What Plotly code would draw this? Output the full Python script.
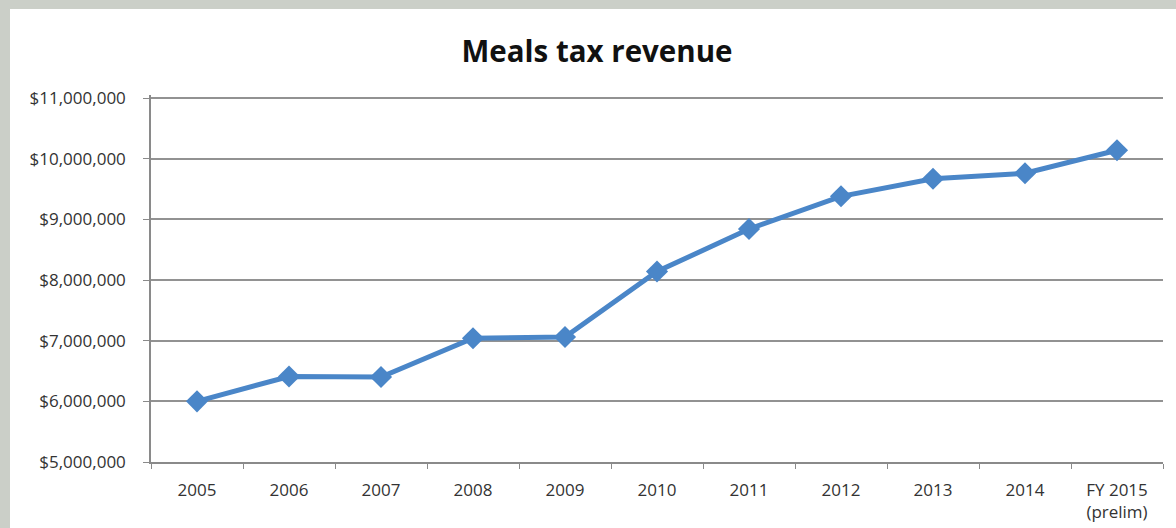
import plotly.graph_objects as go

# Meals tax revenue by fiscal year
years = ["2005", "2006", "2007", "2008", "2009", "2010", "2011", "2012", "2013", "2014",
         "FY 2015<br>(prelim)"]
revenue = [6000000, 6410000, 6400000, 7040000, 7060000, 8140000, 8840000, 9380000,
           9670000, 9760000, 10140000]
y_ticks = [5000000, 6000000, 7000000, 8000000, 9000000, 10000000, 11000000]
y_tick_labels = ["$5,000,000", "$6,000,000", "$7,000,000", "$8,000,000", "$9,000,000",
                 "$10,000,000", "$11,000,000"]

W, H = 1176, 528
L, R, T, B = 151, 13, 95, 66
pw, ph = W - L - R, H - T - B

fig = go.Figure()
fig.add_trace(go.Scatter(
    x=years, y=revenue, mode="lines+markers",
    line=dict(color="#4a86c8", width=5),
    marker=dict(symbol="diamond", size=17, color="#4a86c8"),
    hoverinfo="x+y", showlegend=False,
))

# white chart card over a soft grey backdrop
fig.add_shape(
    type="rect", xref="paper", yref="paper", layer="below",
    x0=(10 - L) / pw, x1=(W + 20 - L) / pw,
    y0=-(B + 30) / ph, y1=(H - B - 9) / ph,
    fillcolor="white", line=dict(width=0),
)

fig.update_layout(
    width=W, height=H,
    margin=dict(l=L, r=R, t=T, b=B),
    paper_bgcolor="#cbcfc8",
    plot_bgcolor="rgba(0,0,0,0)",
    font=dict(family="Open Sans", color="#404040", size=17),
    title=dict(text="<b>Meals tax revenue</b>", x=597 / W, xanchor="center",
               y=1 - 52 / H, yanchor="middle",
               font=dict(family="Open Sans", size=29.5, color="#111111")),
    xaxis=dict(
        type="category", showgrid=False, showline=True, linecolor="#8a8a8a", linewidth=1.5,
        ticks="outside", tickson="boundaries", ticklen=5, tickcolor="#8a8a8a",
        tickfont=dict(size=17, color="#333333"), ticklabelstandoff=12,
        range=[-0.5, len(years) - 0.5], fixedrange=True, automargin=False,
    ),
    yaxis=dict(
        range=[5000000, 11050000], tickvals=y_ticks, ticktext=y_tick_labels,
        showgrid=True, gridcolor="#929292", gridwidth=1.5,
        showline=True, linecolor="#8a8a8a", linewidth=1.5,
        ticks="outside", ticklen=6, tickcolor="#8a8a8a",
        tickfont=dict(size=17, color="#333333"), ticklabelstandoff=14,
        zeroline=False, fixedrange=True, automargin=False,
    ),
)

fig.write_html("out.html")
